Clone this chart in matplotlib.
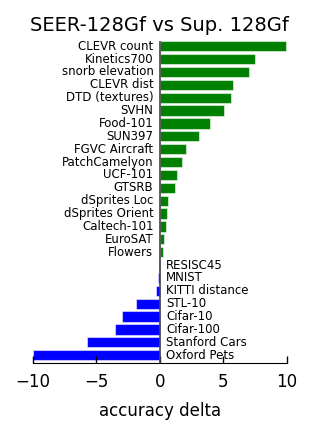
import numpy as np
import matplotlib
matplotlib.use('Agg')
import matplotlib.pyplot as plt

# datasets, sorted top to bottom
tasks = ['CLEVR count', 'Kinetics700', 'snorb elevation', 'CLEVR dist', 'DTD (textures)',
         'SVHN', 'Food-101', 'SUN397', 'FGVC Aircraft', 'PatchCamelyon', 'UCF-101',
         'GTSRB', 'dSprites Loc', 'dSprites Orient', 'Caltech-101', 'EuroSAT', 'Flowers',
         'RESISC45', 'MNIST', 'KITTI distance', 'STL-10', 'Cifar-10', 'Cifar-100',
         'Stanford Cars', 'Oxford Pets']
delta = [9.9, 7.5, 7.03, 5.77, 5.59, 5.01, 3.94, 3.1, 2.05, 1.73, 1.36, 1.18, 0.66,
         0.6, 0.52, 0.37, 0.29, -0.04, -0.16, -0.31, -1.9, -2.94, -3.54, -5.7, -10.0]
xticks = [-10, -5, 0, 5, 10]

fig = plt.figure(figsize=(3.13, 4.32), dpi=100)
ax = fig.add_axes([0.104, 0.16, 0.813, 0.745])

y = np.arange(len(tasks))[::-1]
colors = ['green' if d > 0 else 'blue' for d in delta]
ax.barh(y, delta, height=0.8, color=colors, edgecolor=(1, 1, 1, 0.5), linewidth=0.8)

for yi, d, name in zip(y, delta, tasks):
    if d > 0:
        ax.text(-0.5, yi, name, ha='right', va='center', fontsize=8.5)
    else:
        ax.text(0.5, yi, name, ha='left', va='center', fontsize=8.5)

ax.axvline(0, color='#444444', lw=1.2, zorder=3)
ax.set_xlim(-10, 10)
ax.set_ylim(-0.6, 24.4)
ax.set_xticks(xticks)
ax.set_xticklabels(['\u2212' + str(-t) if t < 0 else str(t) for t in xticks], fontsize=12)
ax.tick_params(axis='x', direction='in', length=5, width=1, pad=7)
ax.set_axisbelow(False)
ax.set_yticks([])
for s in ['left', 'right', 'top']:
    ax.spines[s].set_visible(False)
ax.set_xlabel('accuracy delta', fontsize=12, labelpad=8)
ax.set_title('SEER-128Gf vs Sup. 128Gf', fontsize=14, pad=7)

plt.savefig('out.png', dpi=100)
